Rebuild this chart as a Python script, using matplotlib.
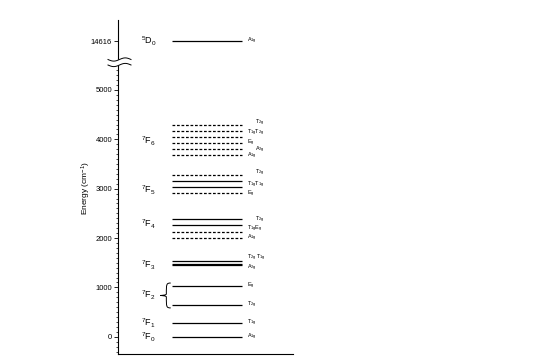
import numpy as np
import matplotlib
matplotlib.use("Agg")
import matplotlib.pyplot as plt
from matplotlib.path import Path
from matplotlib.patches import PathPatch
import matplotlib.transforms as mtransforms

plt.rcParams['font.family'] = ['Liberation Sans', 'DejaVu Sans']
plt.rcParams['mathtext.fontset'] = 'custom'
plt.rcParams['mathtext.rm'] = 'Liberation Sans'
plt.rcParams['mathtext.it'] = 'Liberation Sans:italic'
plt.rcParams['mathtext.bf'] = 'Liberation Sans:bold'

# crystal-field levels of Eu3+ (cm-1), grouped by term
term_names = ["$^7$F$_0$", "$^7$F$_1$", "$^7$F$_2$", "$^7$F$_3$",
              "$^7$F$_4$", "$^7$F$_5$", "$^7$F$_6$", "$^5$D$_0$"]
term_label_y = [-20, 271, 843, 1450, 2277, 2975, 3950, 14616]
term_levels = [[0], [271], [644, 1028], [1452, 1472, 1543],
               [2008, 2129, 2257, 2378], [2905, 3026, 3155, 3283],
               [3677, 3798, 3925, 4053, 4174, 4295], [14616]]
# 1 = observed (solid), 0 = calculated (dashed)
term_observed = [[1], [1], [1, 1], [1, 1, 1], [0, 0, 1, 1], [0, 1, 1, 0],
                 [0, 0, 0, 0, 0, 0], [1]]

# irreducible representation labels and the energy they sit at
sym_text = ["A$_{\\mathrm{1g}}$", "T$_{\\mathrm{1g}}$", "T$_{\\mathrm{2g}}$", "E$_{\\mathrm{g}}$",
            "A$_{\\mathrm{2g}}$", "T$_{\\mathrm{2g}}$ T$_{\\mathrm{1g}}$",
            "A$_{\\mathrm{1g}}$", "T$_{\\mathrm{1g}}$E$_{\\mathrm{g}}$", "T$_{\\mathrm{2g}}$",
            "E$_{\\mathrm{g}}$", "T$_{\\mathrm{1g}}$T$_{\\mathrm{1g}}$", "T$_{\\mathrm{2g}}$",
            "A$_{\\mathrm{1g}}$", "A$_{\\mathrm{2g}}$", "E$_{\\mathrm{g}}$",
            "T$_{\\mathrm{1g}}$T$_{\\mathrm{2g}}$", "T$_{\\mathrm{2g}}$",
            "A$_{\\mathrm{1g}}$"]
sym_y = [0, 271, 644, 1028,
         1400, 1600,
         2000, 2190, 2370,
         2890, 3085, 3310,
         3670, 3790, 3930, 4135, 4330,
         14616]
sym_x = [0.735, 0.735, 0.735, 0.735,
         0.735, 0.735,
         0.735, 0.735, 0.785,
         0.735, 0.735, 0.785,
         0.735, 0.78, 0.735, 0.735, 0.78,
         0.735]

ticks_low = [0, 1000, 2000, 3000, 4000, 5000]
ticks_high = [14616]

W, H = 545, 357
fig = plt.figure(figsize=(W / 100, H / 100), dpi=100)
x0, x1 = 118.3 / W, 293 / W
y_bot, y_mid, y_top = 354.3, 62, 20
ax = fig.add_axes([x0, 1 - y_bot / H, x1 - x0, (y_bot - y_mid) / H])
axt = fig.add_axes([x0, 1 - y_mid / H, x1 - x0, (y_mid - y_top) / H])

ax.set_ylim(-356, 5567)
axt.set_ylim(14191, 15041)
for a in (ax, axt):
    a.set_xlim(0, 1)
    a.set_xticks([])
    a.spines['top'].set_visible(False)
    a.spines['right'].set_visible(False)
    a.spines['left'].set_linewidth(0.8)
    a.spines['bottom'].set_linewidth(0.8)
    a.tick_params(axis='y', labelsize=5.5, width=0.6, length=3, pad=1.5)
    a.patch.set_visible(False)
axt.spines['bottom'].set_visible(False)

ax.set_yticks(ticks_low)
ax.set_yticks(np.arange(-300, 5600, 100), minor=True)
ax.tick_params(axis='y', which='minor', width=0.5, length=1.6)
axt.set_yticks(ticks_high)

for name, ly, levels, obs in zip(term_names, term_label_y, term_levels, term_observed):
    target = axt if ly > 10000 else ax
    for e, o in zip(levels, obs):
        target.hlines(e, 0.306, 0.706, colors='black', linewidth=0.9,
                      linestyles='-' if o else (0, (2.2, 1.4)))
    target.text(0.13, ly, name, fontsize=6.5, ha='left', va='center')

for t, yv, xv in zip(sym_text, sym_y, sym_x):
    target = axt if yv > 10000 else ax
    target.text(xv, yv, t, fontsize=4, ha='left', va='center')

# brace grouping the 7F2 levels
tr = mtransforms.blended_transform_factory(ax.transAxes, ax.transData)
bx, tipx = 0.275, 0.24
lo, hi = term_levels[2][0] - 60, term_levels[2][1] + 60
mid = (lo + hi) / 2
verts = [(bx + 0.025, hi),
         (bx, hi), (bx, hi - 20), (bx, mid + 30),
         (bx, mid + 5), (tipx + 0.01, mid + 3), (tipx, mid),
         (tipx + 0.01, mid - 3), (bx, mid - 5), (bx, mid - 30),
         (bx, lo + 20), (bx, lo), (bx + 0.025, lo)]
codes = [Path.MOVETO] + [Path.CURVE4] * 12
ax.add_patch(PathPatch(Path(verts, codes), transform=tr, fill=False,
                       lw=0.7, color='black', clip_on=False))

# axis break marks
xs = np.linspace(108, 131, 60)
wave = 1.6 * np.sin((xs - 108) / 23 * 2 * np.pi)
ys_up = 59.5 + wave
ys_dn = 65 + wave
poly = np.column_stack([np.concatenate([xs, xs[::-1]]) / W,
                        1 - np.concatenate([ys_up + 0.6, (ys_dn - 0.6)[::-1]]) / H])
fig.add_artist(plt.Polygon(poly, closed=True, color='white', zorder=5))
for ys in (ys_up, ys_dn):
    fig.add_artist(plt.Line2D(xs / W, 1 - ys / H, color='black', lw=0.7, zorder=6))

fig.text(86 / W, 1 - 188 / H, "Energy (cm$^{-1}$)", rotation=90, fontsize=6,
         ha='center', va='center')

fig.savefig("out.png", dpi=100)
